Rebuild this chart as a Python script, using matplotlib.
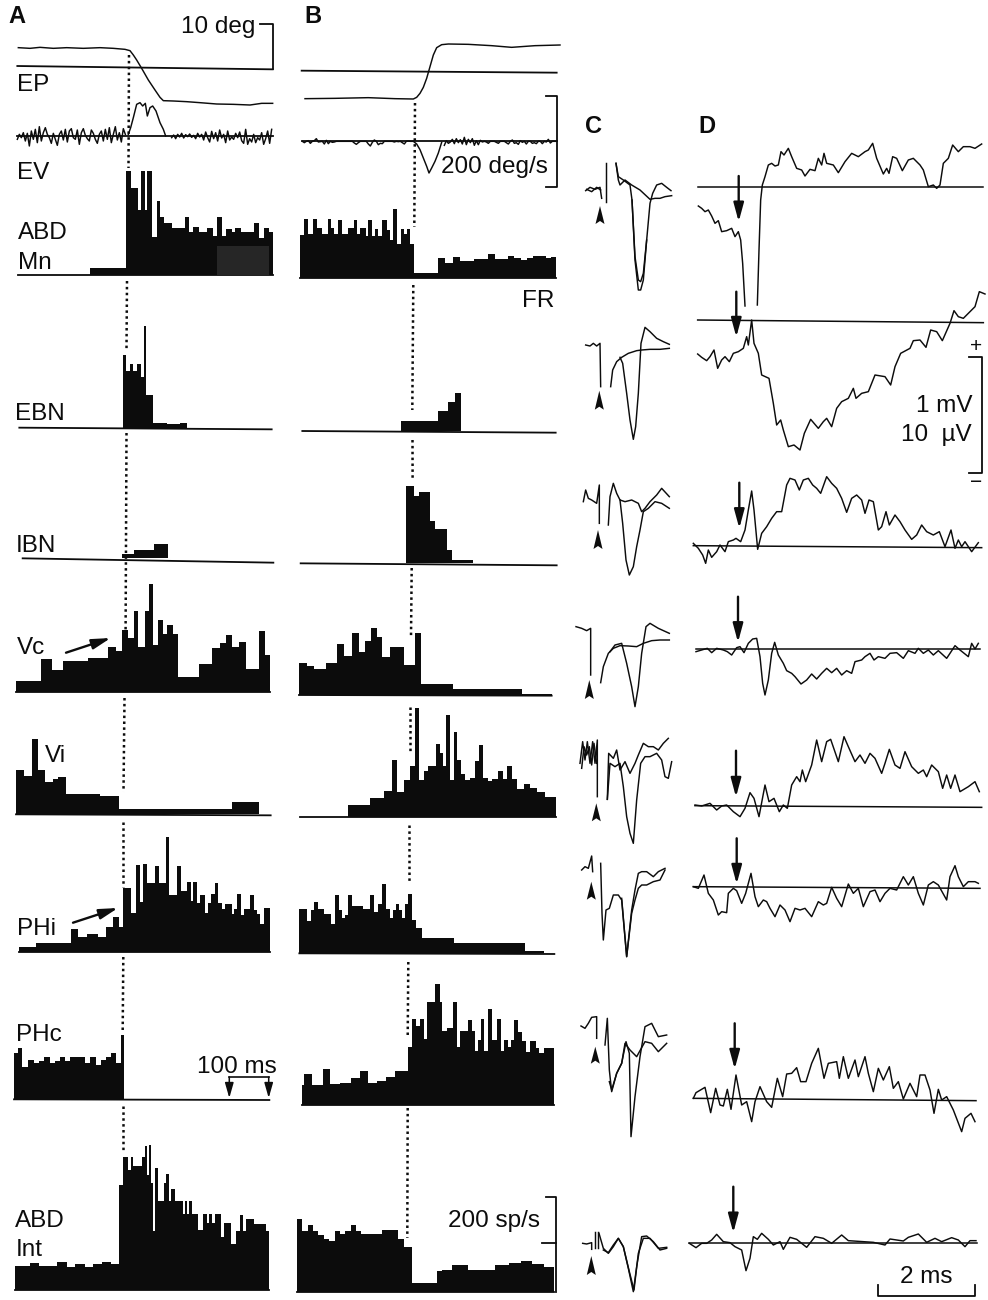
import numpy as np
import matplotlib
matplotlib.use('Agg')
import matplotlib.pyplot as plt

plt.rcParams['font.family'] = ['Liberation Sans', 'DejaVu Sans']

# ---------------- histograms: bin edges and firing rate ----------------
a_mn_t = [270,378,392,413,423,434,441,455,470,481,493,517,555,568,580,596,622,638,652,665,678,695,705,722,763,778,792,807,818]
a_mn_h = [22,312,260,195,312,195,312,113,222,175,157,140,173,130,143,130,140,117,173,117,138,128,140,128,155,110,140,128]
a_ebn_t = [370,378,390,400,411,422,432,439,458,500,540,560]
a_ebn_h = [218,170,190,170,190,151,305,98,13,12,15]
a_ibn_t = [365,402,463,505]
a_ibn_h = [13,25,42]
a_vc_t = [48,123,155,190,265,323,347,365,385,402,415,434,447,458,473,488,502,518,533,598,635,660,678,695,716,738,778,796,811]
a_vc_h = [33,99,64,92,101,135,123,184,160,241,135,241,323,140,216,173,200,172,43,84,132,145,170,133,149,67,181,109]
a_vi_t = [48,73,97,114,135,158,173,197,300,357,696,778]
a_vi_h = [133,115,225,133,96,105,113,62,54,16,36]
a_phi_t = [58,107,214,235,262,293,317,339,356,368,393,409,419,430,441,465,477,497,507,531,543,560,573,578,591,599,615,623,632,644,655,667,675,695,703,711,723,732,750,762,770,780,791,809]
a_phi_h = [16,29,70,46,55,46,75,107,75,193,117,262,150,265,207,260,207,345,172,260,184,210,154,210,149,172,117,147,174,207,147,129,145,115,129,175,112,129,172,127,115,85,132]
a_phc_t = [42,54,67,85,103,117,132,150,165,179,196,210,256,270,288,303,318,333,347,362,373]
a_phc_h = [138,154,96,118,108,116,128,110,116,128,116,128,110,128,103,118,128,140,110,192]
a_int_t = [46,90,116,172,200,226,254,280,305,332,356,370,383,392,399,425,436,441,446,452,460,466,473,491,498,506,514,526,548,555,562,568,576,594,610,620,627,637,645,663,672,692,708,719,729,737,763,797,806]
a_int_h = [72,80,72,84,68,77,70,78,85,77,315,400,360,400,372,400,433,345,434,322,178,365,266,320,348,266,302,266,228,266,228,266,227,180,227,200,227,200,227,158,202,138,178,225,178,214,198,178]

b_fr_t = [46,58,70,85,96,112,128,138,147,160,172,190,206,216,224,243,250,262,270,280,292,305,315,325,336,347,358,366,376,388,458,480,503,526,568,610,630,668,688,708,726,745,782,798,813]
b_fr_h = [130,177,132,177,150,132,177,150,132,175,132,150,175,132,150,127,175,127,149,127,175,145,115,209,102,147,132,148,102,17,60,47,64,53,57,72,59,66,61,55,62,66,62,65]
b_ebn_t = [347,460,490,510,527]
b_ebn_h = [31,61,87,113]
b_ibn_t = [362,386,401,436,451,485,502,565]
b_ibn_h = [233,203,215,126,104,41,10]
b_vc_t = [42,66,88,124,155,178,201,222,240,258,276,292,314,357,389,407,505,712,800]
b_vc_h = [97,87,79,95,154,118,187,129,163,202,174,115,143,90,185,32,17,2]
b_vi_t = [190,256,298,322,335,358,376,390,402,416,430,453,465,475,482,494,506,517,527,541,556,571,582,593,608,622,638,654,666,682,696,716,736,756,781,812]
b_vi_h = [36,59,79,172,77,112,155,329,112,140,155,219,192,155,307,112,255,172,129,112,117,170,217,117,110,116,138,116,153,116,84,101,89,76,62]
b_phi_t = [43,67,78,88,100,116,139,151,162,172,180,190,200,234,254,266,280,291,304,314,324,333,343,352,360,368,380,392,411,507,719,776,808]
b_phi_h = [133,97,130,155,132,117,88,175,130,105,115,175,143,133,175,125,148,208,132,105,130,148,130,105,148,178,100,75,46,31,7,0]
b_phc_t = [52,57,81,113,136,164,197,225,249,276,303,331,369,381,392,405,417,425,451,464,472,487,503,516,525,550,560,569,578,587,598,608,622,636,648,658,670,679,687,700,711,724,735,752,762,776,808]
b_phc_h = [60,93,61,109,62,65,82,103,67,71,85,101,175,259,237,259,197,310,363,310,221,230,310,175,222,256,222,161,195,257,161,287,195,257,161,194,173,195,256,220,193,159,193,171,155,171]
b_int_t = [37,52,68,84,100,116,132,150,166,180,197,213,228,292,338,356,380,455,472,500,550,630,672,708,742,778,808]
b_int_h = [219,185,202,185,171,161,155,185,174,185,202,185,174,187,161,135,27,64,67,81,67,81,87,94,84,75]

# ---------------- eye position / velocity ----------------
a_ep_t = [55,90,120,160,200,250,300,340,375,390,400,410,425,445,465,480,490,520,560,600,650,700,750,785,818]
a_ep_v = [57,55,58,55,57,55,57,55,52,48,35,20,-5,-40,-70,-92,-102,-103,-105,-108,-112,-113,-115,-110,-110]
a_ev_noise1 = [-10,5,-5,10,-15,8,-30,15,-10,20,-20,28,-15,10,25,5,-5,-22,8,-10,-28,5,15,-12,20,-18,15,22,-5,-10,18,-25,10,22,2,-8,-15,18,8,-10,-22,5,15,-15,20,-10,25,-20,5,28,-12,10,-18,22,5]
a_ev_peak_t = [385,392,400,410,420,428,436,442,450,458,468,480,490,497]
a_ev_peak = [5,25,55,95,100,90,98,60,85,90,75,40,20,0]
a_ev_noise2 = [-5,3,-8,5,-3,8,-6,4,-2,6,-4,2,-8,8,-3,5,-12,12,-5,-18,14,-8,10,-15,18,-6,5,-20,15,-12,-3,-10,8,-5,12,-14,-22,20,-25,-8,-18,5,-20,-5,-12,10,-25,-8,15,-22,20]

b_ep_t = [60,150,250,330,385,395,405,415,425,435,445,455,470,490,550,620,680,750,825]
b_ep_v = [-84,-83,-81,-84,-85,-80,-68,-50,-23,12,47,69,78,80,79,75,70,75,77]
b_ev_noise1 = [0,-4,0,2,-6,0,2,8,-2,-1,0,-8,3,-7,0,-3,-2,0,0,0,0,0,0,0,0,0,-5,-9,-4,0,0,0,0,-8,-14,-3,4,0,-10,-6,-7,0,0,0,0,0,-2,0,-1,0,-4,-8,0,1,0,0]
b_ev_peak_t = [385,395,405,415,425,432,440,450,460,470]
b_ev_peak = [0,-8,-25,-50,-75,-95,-80,-60,-35,-3]
b_ev_noise2 = [-12,2,-6,-2,6,-7,8,-4,5,-8,12,-10,6,-4,8,-12,2,-10,3,-2,0,-2,-6,0,0,0,-3,-6,0,0,0,-4,-8,0,4,-6,-4,-9,2,-3,0,-8,0,0,-6,-4,-7,0,0,-7,0,-2,6,-5,0,0,0]

# ---------------- D: field potentials ----------------
d1a_t = [385,395,405,415,425,435,445,455,470,485,495,505,512,518,525]
d1a_v = [-57,-64,-74,-69,-87,-109,-101,-134,-131,-124,-149,-134,-159,-229,-357]
d1b_t = [562,567,572,577,585,595,605,615,625,633,642,655,665,680,695,705,720,735,745,755,762,770,790,805,825,845,865,885,895,908,920,940,950,957,968,980,997,1015,1030,1050,1060,1075,1090,1100,1110,1120,1135,1148,1165,1180,1200,1215,1235]
d1b_v = [-354,-189,-39,6,31,66,71,63,66,106,96,116,91,56,51,33,53,49,86,66,101,71,66,43,76,101,91,106,111,131,86,39,56,41,91,86,49,81,86,66,51,1,6,-4,6,71,86,126,106,121,121,116,129]
d2_t = [383,395,410,420,432,443,455,465,478,490,505,520,530,535,545,552,565,575,597,610,620,632,640,655,672,690,703,722,745,760,770,785,800,815,835,850,858,875,895,915,945,962,975,992,1020,1030,1050,1068,1082,1100,1117,1140,1152,1165,1180,1195,1215,1228,1245]
d2_v = [-102,-112,-122,-110,-90,-145,-120,-110,-125,-100,-95,-85,-50,-75,0,-70,-100,-165,-175,-250,-315,-300,-330,-380,-375,-390,-340,-298,-325,-305,-295,-320,-265,-245,-235,-205,-235,-220,-215,-165,-170,-195,-140,-100,-85,-62,-60,-82,-30,-35,-62,-10,28,10,5,20,40,85,78]
d3_t = [370,385,398,407,415,425,440,450,465,475,490,498,512,525,535,545,552,563,575,590,605,620,635,650,660,675,688,700,715,728,740,752,770,785,800,815,830,845,860,875,885,897,910,925,935,948,958,975,990,1005,1025,1040,1055,1070,1090,1108,1125,1143,1155,1165,1175,1185,1205,1225]
d3_v = [7,-8,-28,-53,-13,-35,-18,2,-18,12,17,22,12,47,107,164,107,-11,37,57,82,102,102,182,202,197,167,197,202,182,172,157,207,187,172,142,100,142,152,137,97,137,132,47,57,102,62,92,72,47,19,32,62,42,32,42,-3,47,-8,17,-3,12,-18,9]
d4_t = [378,395,412,425,440,460,472,485,500,510,522,535,548,560,570,578,585,595,605,614,625,640,650,665,675,693,710,725,740,755,770,785,800,815,830,845,855,875,885,900,912,925,945,960,980,1000,1015,1035,1045,1060,1075,1090,1105,1130,1140,1155,1170,1195,1205,1215,1225]
d4_v = [-8,-3,2,-11,2,-3,-8,-18,4,7,-11,17,30,32,-23,-103,-138,-93,-13,20,-18,-43,-65,-73,-83,-105,-93,-75,-90,-73,-58,-71,-58,-78,-65,-73,-38,-33,-23,-13,-33,-23,-28,-13,-11,-28,-5,-13,2,-13,-3,-18,-5,-28,-13,10,-3,-23,17,0,17]
d5_t = [375,395,420,440,455,470,490,510,525,540,552,567,585,597,612,628,640,652,665,680,690,697,707,725,740,755,770,782,805,822,835,855,870,885,900,915,935,945,958,975,990,1005,1025,1045,1060,1070,1085,1105,1118,1130,1142,1155,1170,1195,1215,1228]
d5_v = [2,-1,7,-13,-1,2,-18,-33,-8,39,22,-33,62,12,22,-18,2,-8,62,87,72,107,72,122,197,132,192,199,132,207,177,132,152,127,157,142,97,127,169,122,112,162,117,97,107,87,122,102,52,92,52,92,42,57,72,42]
d6_t = [370,385,402,415,430,445,455,470,475,490,500,515,527,543,555,565,580,590,600,615,630,645,660,675,690,705,725,745,760,770,785,800,815,835,850,865,880,900,915,930,945,960,980,1000,1015,1030,1045,1060,1075,1090,1105,1130,1140,1155,1165,1180,1195,1215,1225]
d6_v = [0,-5,35,-20,-40,-85,-75,-78,-20,-5,-12,-50,-20,40,-30,-60,-40,-45,-65,-90,-55,-70,-105,-65,-70,-65,-90,-45,-55,-50,-2,-35,-60,8,-20,-5,-60,-15,-10,-45,-20,-5,-10,30,5,30,-20,-55,5,15,5,-40,30,63,30,0,15,15,10]
d7_t = [370,378,405,422,437,450,460,472,483,498,515,530,545,555,570,590,605,622,638,650,665,680,692,708,725,745,762,775,800,808,820,835,855,865,885,895,910,925,940,958,970,985,1000,1020,1040,1050,1065,1080,1092,1105,1115,1130,1150,1175,1185,1203,1215]
d7_v = [0,17,33,-43,30,-20,-23,27,-33,70,-20,-10,-70,-10,35,-10,-27,60,5,73,75,92,50,50,105,150,60,105,110,60,125,60,115,65,125,75,20,90,55,95,30,50,-2,45,5,70,70,25,-45,27,-5,5,-35,-100,-60,-45,-70]
d8_t = [358,378,395,410,425,440,460,480,495,515,528,540,550,562,575,595,610,630,640,660,680,710,735,760,785,815,835,880,910,945,960,1000,1015,1045,1070,1095,1115,1145,1165,1185,1200,1218]
d8_v = [0,-13,0,0,10,27,5,2,-10,-20,-82,-45,20,12,30,12,-5,5,-18,18,12,-12,20,15,0,25,8,5,3,-5,13,7,18,28,3,15,5,17,10,-10,8,8]

# ---------------- C: spikes, each row is a few sweeps ----------------
c_traces = [
    [([47,60,75,90,95], [-11,-1,-7,-1,-34]),
     ([50,65,80,92], [-7,-14,-1,-9]),
     ([108,108], [73,-44]),
     ([138,145,150,165,185,210,240,255,270,285,305], [71,21,6,21,6,-9,-37,-34,-34,-29,-26]),
     ([138,145,160,180,186,195,205,212,220,230,240,248,260,275,290,303], [71,31,21,6,-39,-219,-309,-309,-279,-159,-49,-19,6,11,-1,-11]),
     ([186,195,205,212,220,230], [-39,-209,-279,-284,-259,-159])],
    [([47,60,70,80,90,92], [-75,-78,-70,-78,-70,-200]),
     ([122,128,140,155,175,200,215,240,270,298], [-200,-150,-125,-112,-100,-92,-90,-88,-88,-85]),
     ([150,158,170,180,190,197,205,213,225,240,260,280,298], [-112,-130,-220,-300,-358,-320,-220,-70,-22,-35,-55,-65,-73])],
    [([40,47,55,65,80,88,88], [132,167,142,137,127,182,67]),
     ([115,120,130,140,150,165,185,205,215,225,240,260,275,298], [62,147,187,157,137,132,137,127,102,112,132,152,172,147]),
     ([150,158,168,178,190,200,210,220,235,255,275,298], [137,67,-43,-88,-63,-3,47,102,112,132,127,112])],
    [([18,35,50,62,62], [67,62,55,62,-78]),
     ([92,100,115,130,150,175,200,220,245,270,298], [-101,-53,-13,2,10,9,7,17,25,27,27]),
     ([120,135,155,170,185,195,205,215,228,240,265,298], [-8,12,17,-43,-113,-173,-113,-13,67,77,62,47])],
    [([30,38,45,52,60,68,75,82,82], [127,192,137,192,127,192,127,197,27]),
     ([35,42,50,58,65,72,80], [112,177,152,177,122,187,127]),
     ([112,116,130,140,150,165,180,195,205,220,235,250,265,280,295], [19,157,142,167,107,132,97,127,152,187,177,177,167,187,202]),
     ([112,120,135,150,160,170,180,190,200,212,225,240,260,275,285,295,305], [19,127,117,127,57,-33,-83,-113,17,127,147,147,157,137,87,82,132])],
    [([35,45,55,65,68], [50,60,55,92,45]),
     ([92,96,100,108,118,130,145,155,170,185,195,205,215,230,250,265,285], [70,-80,-160,-70,-65,-25,-25,-40,-210,-70,-10,40,45,45,30,45,55]),
     ([155,170,185,195,205,215,230,250,270,285], [-35,-210,-80,-40,-5,5,5,15,20,50])],
    [([33,45,55,65,80,80], [217,210,225,243,245,180]),
     ([105,112,118,125,140,155,168,178,183,195,210,225,245,265,290], [160,240,85,20,75,105,170,135,-115,5,125,215,225,185,190]),
     ([118,125,140,155,165,180,200,225,245,265,290], [50,25,75,105,165,145,125,170,165,140,165])],
    [([38,50,65,65], [0,-2,2,-18]),
     ([75,75], [35,-15]),
     ([85,85], [35,-15]),
     ([87,100,115,130,145,160,175,190,200,215,230,250,270,290], [30,-15,-30,-10,15,-10,-75,-145,-70,20,22,5,-20,-15]),
     ([100,115,130,145,160,178,192,205,220,240,265,290], [-20,-28,-5,15,-10,-85,-140,-30,15,15,-15,-12])],
]

# ---------------- text ----------------
labels = [('EP',17,91),('EV',17,179),('ABD',18,239),('Mn',18,269),('EBN',15,420),('IBN',16,552),
          ('Vc',17,654),('Vi',45,762),('PHi',17,935),('PHc',16,1041),('ABD',15,1227),('Int',16,1256),
          ('10 deg',181,33),('100 ms',197,1073),('FR',522,307),('200 deg/s',441,173),
          ('200 sp/s',448,1227),('2 ms',900,1283)]
letters = [('A',8,23),('B',304,23),('C',585,133),('D',698,133)]

INK = '#0c0c0c'
fig = plt.figure(figsize=(9.88, 13), dpi=100)
page = fig.add_axes([0, 0, 1, 1])
page.set_xlim(0, 988)
page.set_ylim(1300, 0)
page.axis('off')


def row(left, base):
    # overlay axes, 3 units to the pixel, origin at the given column / baseline
    ax = fig.add_axes([0, 0, 1, 1])
    ax.set_xlim(-left * 3, (988 - left) * 3)
    ax.set_ylim(-(1300 - base) * 3, base * 3)
    ax.axis('off')
    ax.patch.set_visible(False)
    return ax


def hist(left, base, t, h, line):
    ax = row(left, base)
    ax.stairs(h, t, fill=True, color=INK, lw=0)
    ax.plot(line[:2], line[2:], color=INK, lw=1.3)
    return ax


def trace(ax, t, v, lw=1.05):
    ax.plot(t, v, color=INK, lw=lw, solid_joinstyle='round')


# histograms A
ax = hist(0, 275, a_mn_t, a_mn_h, (55, 818, 0, 0))
ax.fill_between([650, 806], 0, 87, color='#262626', lw=0, zorder=5)  # grey patch in the scan
hist(0, 427.67, a_ebn_t, a_ebn_h, (58, 815, 0, -5))
hist(0, 558.33, a_ibn_t, a_ibn_h, (68, 820, 0, -13))
hist(0, 691.67, a_vc_t, a_vc_h, (48, 810, 0, 0))
hist(0, 814.33, a_vi_t, a_vi_h, (48, 812, 0, -3))
hist(0, 952.33, a_phi_t, a_phi_h, (58, 809, 0, 0))
hist(0, 1099.33, a_phc_t, a_phc_h, (42, 808, 0, -2))
hist(0, 1290, a_int_t, a_int_h, (46, 806, 0, 0))
# histograms B
hist(285, 278.33, b_fr_t, b_fr_h, (46, 813, 0, 0))
hist(285, 431, b_ebn_t, b_ebn_h, (52, 812, 0, -5))
hist(285, 563.33, b_ibn_t, b_ibn_h, (47, 815, 0, -6))
hist(285, 695, b_vc_t, b_vc_h, (42, 800, 0, -2))
hist(285, 817.33, b_vi_t, b_vi_h, (45, 812, 0, 0))
hist(285, 953.33, b_phi_t, b_phi_h, (43, 808, 0, -2))
hist(285, 1105, b_phc_t, b_phc_h, (52, 808, 0, 0))
ax = hist(285, 1292.33, b_int_t, b_int_h, (37, 808, 0, 0))
ax.plot([782, 812, 812], [285, 285, 0], color=INK, lw=1.3)
ax.plot([772, 812], [149, 149], color=INK, lw=1.3)

# eye traces A
ax = row(0, 66.67)
trace(ax, a_ep_t, a_ep_v)
ax.plot([52, 818], [2, -8], color=INK, lw=1.3)
ax.plot([780, 818, 818], [128, 128, -8], color=INK, lw=1.3)
ax = row(0, 136)
trace(ax, 52 + 6 * np.arange(len(a_ev_noise1)), a_ev_noise1)
trace(ax, a_ev_peak_t, a_ev_peak)
trace(ax, 515 + 6 * np.arange(len(a_ev_noise2)), a_ev_noise2)
ax.plot([52, 818], [0, 0], color=INK, lw=1.3)
# eye traces B
ax = row(285, 70.67)
trace(ax, b_ep_t, b_ep_v)
ax.plot([50, 815], [0, -6], color=INK, lw=1.3)
ax = row(285, 141.33)
trace(ax, 52 + 6 * np.arange(len(b_ev_noise1)), b_ev_noise1)
trace(ax, b_ev_peak_t, b_ev_peak)
trace(ax, 478 + 6 * np.arange(len(b_ev_noise2)), b_ev_noise2)
ax.plot([50, 815], [0, 0], color=INK, lw=1.3)
ax.plot([783, 815, 815, 783], [136, 136, -136, -136], color=INK, lw=1.3)

# C and D rows share the baseline of the D trace
d_bases = [187, 320, 545.67, 649, 805.67, 886.67, 1098.33, 1243.33]
d_traces = [[(d1a_t, d1a_v), (d1b_t, d1b_v)], [(d2_t, d2_v)], [(d3_t, d3_v)], [(d4_t, d4_v)],
            [(d5_t, d5_v)], [(d6_t, d6_v)], [(d7_t, d7_v)], [(d8_t, d8_v)]]
d_lines = [(385, 1240, 0), (383, 1240, -8), (370, 1235, -6), (378, 1230, 0),
           (375, 1235, -5), (370, 1230, -5), (370, 1218, -7), (358, 1220, 0)]
for base, sweeps, spikes, line in zip(d_bases, d_traces, c_traces, d_lines):
    ax = row(570, base)
    for t, v in sweeps:
        trace(ax, t, v)
    for t, v in spikes:
        trace(ax, t, v)
    ax.plot(line[:2], [0, line[2]], color=INK, lw=1.1)

# dotted onset lines
dotted = [((129, 128.5), (55, 168)), ((127, 126.5), (281, 350)), ((126.5, 125.6), (433, 630)),
          ((124.5, 123.5), (698, 792)), ((122.7, 122.7), (822, 887)), ((123.3, 122.7), (957, 1030)),
          ((123, 123), (1106, 1153)),
          ((415, 414.3), (103, 227)), ((413.3, 412.3), (285, 410)), ((412.5, 412.6), (440, 478)),
          ((411.7, 411), (568, 637)), ((410, 410), (707, 753)), ((409, 409), (825, 883)),
          ((408.3, 407.7), (962, 1037)), ((407.7, 407.3), (1108, 1238))]
for xs, ys in dotted:
    page.plot(xs, ys, color=INK, lw=1.8, linestyle=(0, (1, 1.35)))

# arrows
thick = dict(arrowstyle='-|>,head_width=0.19,head_length=0.7', color=INK, lw=1.7,
             mutation_scale=16, shrinkA=0, shrinkB=0)
for x, y0, y1 in [(738.7, 176, 221.7), (736.3, 291.7, 337), (739.3, 482.7, 528.3), (738, 596.7, 642.3),
                  (736, 750.7, 797), (736.7, 838.3, 884), (734.7, 1023.3, 1069), (733.3, 1186.7, 1232.7)]:
    page.annotate('', xy=(x, y1), xytext=(x, y0), arrowprops=thick)
for a, b in [((66, 652.7), (110.7, 638)), ((73, 922.7), (118, 908))]:
    page.annotate('', xy=b, xytext=a, arrowprops=thick)
thin = dict(arrowstyle='-|>,head_width=0.2,head_length=0.7', color=INK, lw=1.1,
            mutation_scale=13, shrinkA=0, shrinkB=0)
for x in (229.3, 268.7):
    page.annotate('', xy=(x, 1098), xytext=(x, 1077), arrowprops=thin)
page.plot([229.3, 268.7], [1077, 1077], color=INK, lw=1.2)

# stimulus arrowheads in C
for x, y, h in [(600, 206, 18), (599.3, 390.7, 19), (598, 530, 19), (589.3, 680, 19),
                (596.3, 803.3, 18), (591.3, 881.7, 18), (595.3, 1046.7, 17), (591.3, 1256, 19)]:
    page.fill([x, x - 4.5, x, x + 4.5], [y, y + h, y + h - 3, y + h], color=INK, lw=0)

# scale bars on the right
page.plot([969, 982.3, 982.3, 969], [357.3, 357.3, 473.3, 473.3], color=INK, lw=1.3)
page.text(976, 347, '+', fontsize=15, ha='center', va='center', color=INK)
page.text(976, 482, '\u2212', fontsize=15, ha='center', va='center', color=INK)
page.plot([878.3, 878.3, 975, 975], [1285, 1296, 1296, 1285], color=INK, lw=1.3)

for s, x, y in labels:
    page.text(x, y, s, fontsize=17.5, color=INK, ha='left', va='baseline')
page.text(972, 412, '1 mV', fontsize=17.5, color=INK, ha='right', va='baseline')
page.text(972, 441, '10  \u00b5V', fontsize=17.5, color=INK, ha='right', va='baseline')
for s, x, y in letters:
    page.text(x, y, s, fontsize=17, fontweight='bold', color=INK, ha='left', va='baseline')

fig.savefig('out.png', dpi=100)
